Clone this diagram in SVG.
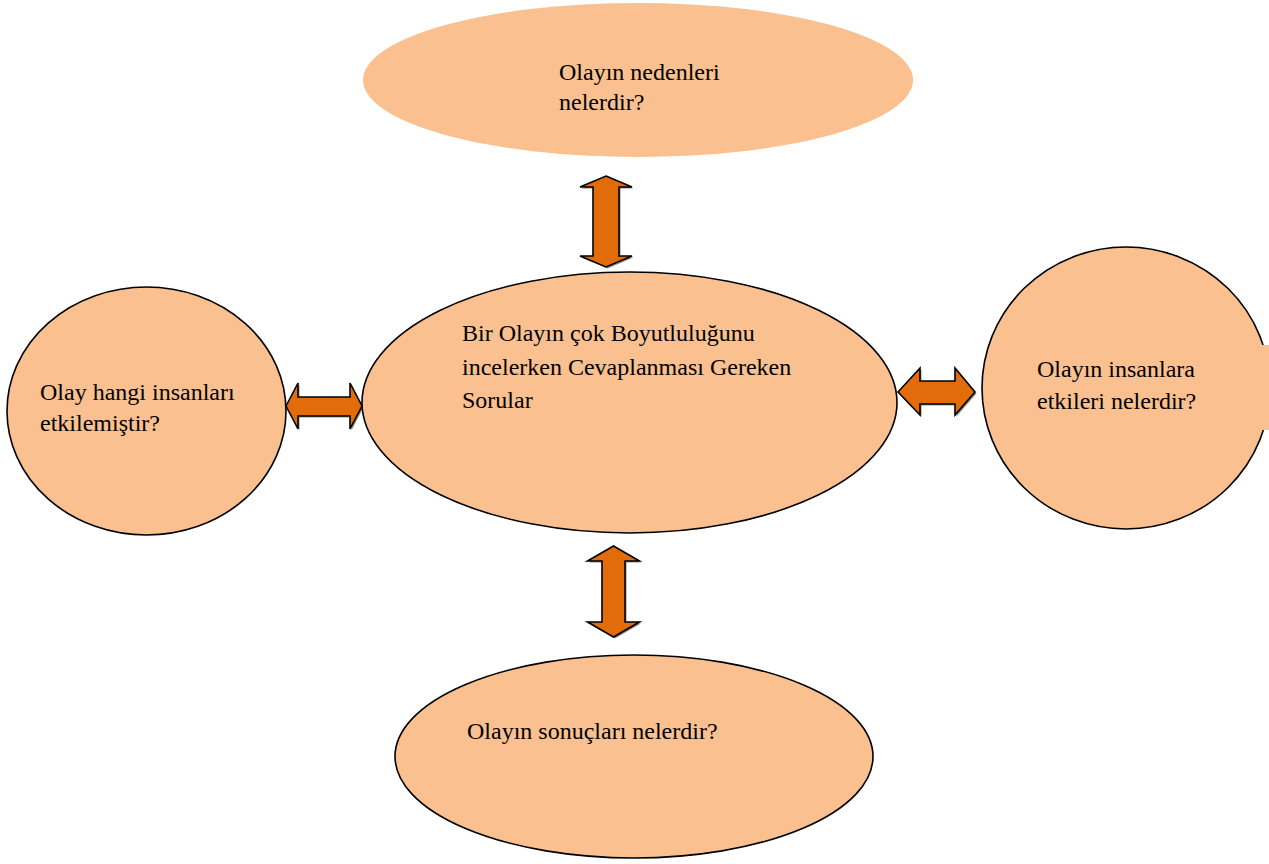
<svg xmlns="http://www.w3.org/2000/svg" width="1269" height="864" viewBox="0 0 1269 864">
<style>
.node{fill:#FAC090;stroke:#000;stroke-width:1.6}
.plain{fill:#FAC090;stroke:none}
.arrow{fill:#E36C0A;stroke:#000;stroke-width:1.6;stroke-linejoin:miter}
.shadow{fill:#000;opacity:0.45}
text{font-family:"Liberation Serif","Times New Roman",serif;font-size:24px;fill:#000}
</style>
<rect width="1269" height="864" fill="#fff"/>
<g id="connectors">
<g id="arrow-top">
<polygon class="shadow" transform="translate(1.5,1.5)" points="606,176 632,187 619,187 619,256 632,256 606,267 580,256 593,256 593,187 580,187"/>
<polygon class="arrow" points="606,176 632,187 619,187 619,256 632,256 606,267 580,256 593,256 593,187 580,187"/>
</g>
<g id="arrow-bottom">
<polygon class="shadow" transform="translate(1.5,1.5)" points="613.5,546 639.5,561 625,561 625,622 639.5,622 613.5,637 587.5,622 602,622 602,561 587.5,561"/>
<polygon class="arrow" points="613.5,546 639.5,561 625,561 625,622 639.5,622 613.5,637 587.5,622 602,622 602,561 587.5,561"/>
</g>
<g id="arrow-left">
<polygon class="shadow" transform="translate(1.5,1.5)" points="286,406 298,383 298,397 350,397 350,383 362,406 350,429 350,416 298,416 298,429"/>
<polygon class="arrow" points="286,406 298,383 298,397 350,397 350,383 362,406 350,429 350,416 298,416 298,429"/>
</g>
<g id="arrow-right">
<polygon class="shadow" transform="translate(1.5,1.5)" points="898,392 920,368 920,381 955,381 955,368 975,392 955,415 955,404 920,404 920,415"/>
<polygon class="arrow" points="898,392 920,368 920,381 955,381 955,368 975,392 955,415 955,404 920,404 920,415"/>
</g>
</g>
<g id="node-top">
<ellipse class="plain" cx="638" cy="80" rx="275" ry="77"/>
<text x="559" y="80">Olayın nedenleri</text>
<text x="559" y="110">nelerdir?</text>
</g>
<g id="node-center">
<ellipse class="node" cx="629.5" cy="402.5" rx="267.5" ry="130.5"/>
<text x="462" y="341">Bir Olayın çok Boyutluluğunu</text>
<text x="462" y="375">incelerken Cevaplanması Gereken</text>
<text x="462" y="408">Sorular</text>
</g>
<g id="node-left">
<ellipse class="node" cx="146.5" cy="411" rx="139.5" ry="124"/>
<text x="40" y="400">Olay hangi insanları</text>
<text x="40" y="431">etkilemiştir?</text>
</g>
<g id="node-right">
<ellipse class="node" cx="1126" cy="388" rx="144" ry="141"/>
<rect class="plain" x="1261" y="345" width="8" height="85"/>
<text x="1037" y="377">Olayın insanlara</text>
<text x="1037" y="409">etkileri nelerdir?</text>
</g>
<g id="node-bottom">
<ellipse class="node" cx="634" cy="756.5" rx="239" ry="101.5"/>
<text x="467" y="739">Olayın sonuçları nelerdir?</text>
</g>
</svg>
